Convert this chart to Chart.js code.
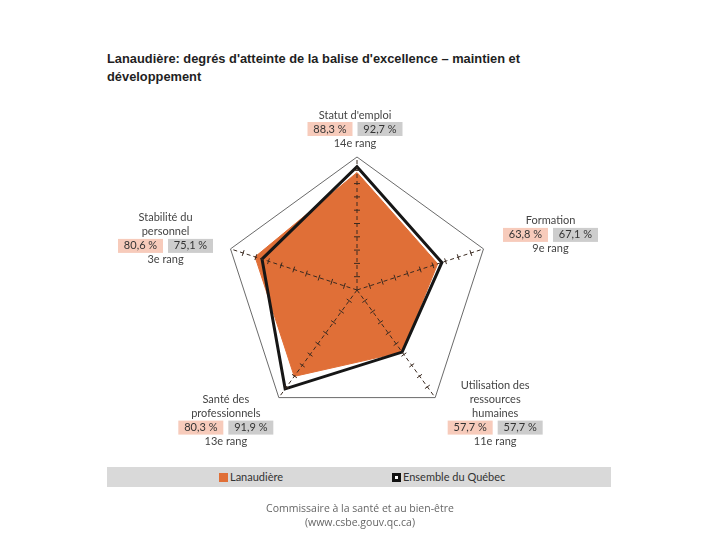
<!DOCTYPE html>
<html lang="fr">
<head>
    <meta charset="UTF-8">
    <title>Lanaudière - maintien et développement</title>
    <script src="https://cdn.jsdelivr.net/npm/chart.js"></script>
    <style>
        body {
            margin: 0;
            background: #fff;
            font-family: 'Lato', sans-serif;
        }
        #wrap {
            position: relative;
            width: 720px;
            height: 540px;
        }
        #title {
            position: absolute;
            left: 107px;
            top: 50px;
            width: 440px;
            font-family: 'Liberation Sans', Arial, sans-serif;
            font-weight: bold;
            font-size: 12.85px;
            line-height: 18px;
            color: #1f1f1f;
        }
        #legend {
            position: absolute;
            left: 107px;
            top: 467px;
            width: 504px;
            height: 20px;
            background: #d9d9d9;
            font-size: 11px;
            color: #333;
        }
        .leg {
            position: absolute;
            top: 3px;
            line-height: 14px;
        }
        .sw {
            display: inline-block;
            width: 9px;
            height: 9px;
            vertical-align: -1px;
            margin-right: 2px;
            box-sizing: border-box;
        }
        #footer {
            position: absolute;
            left: 0;
            top: 501px;
            width: 720px;
            text-align: center;
            font-family: 'Open Sans', sans-serif;
            font-size: 10.5px;
            line-height: 14px;
            color: #666;
        }
        canvas {
            position: absolute;
            left: 0;
            top: 0;
        }
    </style>
</head>
<body>
<div id="wrap">
    <div id="title">Lanaudière: degrés d'atteinte de la balise d'excellence – maintien et développement</div>
    <canvas id="radar" width="720" height="540"></canvas>
    <div id="legend">
        <span class="leg" style="left:112px"><span class="sw" style="background:#e06f37"></span>Lanaudière</span>
        <span class="leg" style="left:285px"><span class="sw" style="background:#fff;border:3px solid #111"></span>Ensemble du Québec</span>
    </div>
    <div id="footer">Commissaire à la santé et au bien-être<br>(www.csbe.gouv.qc.ca)</div>
</div>
<script>
    const categories = [
        ["Statut d'emploi"],
        ["Formation"],
        ["Utilisation des", "ressources", "humaines"],
        ["Santé des", "professionnels"],
        ["Stabilité du", "personnel"]
    ];
    const lanaudiere = [88.3, 63.8, 57.7, 80.3, 80.6];
    const quebec = [92.7, 67.1, 57.7, 91.9, 75.1];
    const rangs = ['14e rang', '9e rang', '11e rang', '13e rang', '3e rang'];

    // where the value row of each label sits, relative to the outer vertex
    const labelOffsets = [[-2, -28], [67, -14], [60, 30], [-53, 30], [-65, -3]];

    const fmt = v => v.toFixed(1).replace('.', ',') + ' %';

    const axisTicks = {
        id: 'axisTicks',
        afterDatasetsDraw(chart) {
            const scale = chart.scales.r;
            const ctx = chart.ctx;
            ctx.save();
            ctx.strokeStyle = '#3a2a20';
            ctx.lineWidth = 1;
            for (let i = 0; i < categories.length; i++) {
                const end = scale.getPointPositionForValue(i, 100);
                const dx = end.x - scale.xCenter, dy = end.y - scale.yCenter;
                const len = Math.sqrt(dx * dx + dy * dy);
                const nx = -dy / len, ny = dx / len;
                for (let v = 10; v <= 90; v += 10) {
                    const p = scale.getPointPositionForValue(i, v);
                    ctx.beginPath();
                    ctx.moveTo(p.x - nx * 3, p.y - ny * 3);
                    ctx.lineTo(p.x + nx * 3, p.y + ny * 3);
                    ctx.stroke();
                }
            }
            ctx.restore();
        }
    };

    const valueLabels = {
        id: 'valueLabels',
        afterDraw(chart) {
            const scale = chart.scales.r;
            const ctx = chart.ctx;
            ctx.save();
            ctx.font = '11px Lato, sans-serif';
            ctx.textAlign = 'center';
            ctx.textBaseline = 'middle';
            for (let i = 0; i < categories.length; i++) {
                const p = scale.getPointPositionForValue(i, 100);
                const cx = p.x + labelOffsets[i][0];
                const cy = p.y + labelOffsets[i][1];
                const lines = categories[i];
                ctx.fillStyle = '#444';
                lines.forEach((t, k) => {
                    ctx.fillText(t, cx, cy - 14 * (lines.length - k));
                });
                ctx.fillStyle = '#f7cbbb';
                ctx.fillRect(cx - 47.5, cy - 7, 45, 14);
                ctx.fillStyle = '#cdcdcd';
                ctx.fillRect(cx + 2.5, cy - 7, 45, 14);
                ctx.fillStyle = '#333';
                ctx.fillText(fmt(lanaudiere[i]), cx - 25, cy);
                ctx.fillText(fmt(quebec[i]), cx + 25, cy);
                ctx.fillStyle = '#444';
                ctx.fillText(rangs[i], cx, cy + 14);
            }
            ctx.restore();
        }
    };

    const ctx = document.getElementById('radar').getContext('2d');
    new Chart(ctx, {
        type: 'radar',
        data: {
            labels: categories,
            datasets: [
                {
                    label: 'Ensemble du Québec',
                    data: quebec,
                    fill: false,
                    borderColor: '#161616',
                    borderWidth: 3,
                    pointRadius: 0,
                    order: 0
                },
                {
                    label: 'Lanaudière',
                    data: lanaudiere,
                    fill: true,
                    backgroundColor: '#e06f37',
                    borderColor: '#e06f37',
                    borderWidth: 1,
                    pointRadius: 0,
                    order: 1
                }
            ]
        },
        options: {
            responsive: false,
            animation: false,
            layout: {
                padding: { left: 224, right: 230, top: 157, bottom: 117 }
            },
            plugins: {
                legend: { display: false },
                tooltip: { enabled: false }
            },
            scales: {
                r: {
                    min: 0,
                    max: 100,
                    ticks: { display: false, stepSize: 100 },
                    pointLabels: { display: false },
                    grid: { color: '#444', lineWidth: 0.8, z: 1 },
                    angleLines: { color: '#3a2a20', lineWidth: 1, borderDash: [4, 3] }
                }
            }
        },
        plugins: [axisTicks, valueLabels]
    });
</script>
</body>
</html>
